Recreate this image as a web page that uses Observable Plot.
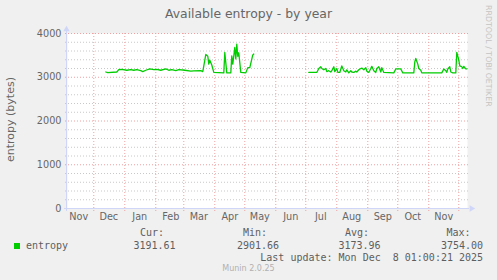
<!DOCTYPE html>
<html>
<head>
<meta charset="utf-8">
<script src="https://cdn.jsdelivr.net/npm/d3@7"></script>
<script src="https://cdn.jsdelivr.net/npm/@observablehq/plot@0.6"></script>
<style>
html, body { margin: 0; padding: 0; background: #F0F0F0; }
#wrap { position: relative; width: 497px; height: 280px; background: #F0F0F0; overflow: hidden; font-family: "DejaVu Sans", sans-serif; color: #666666; }
.t { position: absolute; white-space: pre; }
.mono { font-family: "DejaVu Sans Mono", monospace; font-size: 10px; line-height: 10px; color: #5e5e5e; }
#chart { position: absolute; left: 0; top: 22px; }
</style>
</head>
<body>
<div id="wrap">
  <div id="chart"></div>
</div>
<script>
// ---------- data ----------
const chartTitle = "Available entropy - by year";
const yTitle = "entropy (bytes)";
const seriesName = "entropy";
const seriesColor = "#00CC00";

// [date, bytes]; null marks the gap with no data
const entropy = [
  ["2024-12-13", 3120], ["2024-12-15", 3105], ["2024-12-24", 3120], ["2024-12-26", 3175],
  ["2024-12-29", 3180], ["2025-01-03", 3160], ["2025-01-07", 3175], ["2025-01-10", 3160],
  ["2025-01-13", 3175], ["2025-01-17", 3150], ["2025-01-19", 3130], ["2025-01-22", 3160],
  ["2025-01-26", 3190], ["2025-01-30", 3175], ["2025-02-02", 3180], ["2025-02-06", 3160],
  ["2025-02-11", 3190], ["2025-02-14", 3160], ["2025-02-17", 3175], ["2025-02-21", 3150],
  ["2025-02-24", 3175], ["2025-03-02", 3160], ["2025-03-08", 3140], ["2025-03-11", 3145],
  ["2025-03-18", 3150], ["2025-03-20", 3130], ["2025-03-23", 3520], ["2025-03-25", 3480],
  ["2025-03-26", 3300], ["2025-03-27", 3390], ["2025-03-29", 3280], ["2025-03-31", 3110],
  ["2025-04-10", 3100], ["2025-04-11", 3566], ["2025-04-13", 3100], ["2025-04-17", 3100],
  ["2025-04-18", 3490], ["2025-04-19", 3300], ["2025-04-21", 3680], ["2025-04-22", 3420],
  ["2025-04-23", 3754], ["2025-04-24", 3480], ["2025-04-25", 3560], ["2025-04-27", 3110],
  ["2025-05-02", 3100], ["2025-05-04", 3220], ["2025-05-06", 3220], ["2025-05-09", 3510],
  ["2025-05-10", 3530],
  ["2025-06-05", null],
  ["2025-07-04", 3110], ["2025-07-12", 3110], ["2025-07-14", 3200], ["2025-07-16", 3240],
  ["2025-07-17", 3200], ["2025-07-19", 3170], ["2025-07-21", 3200], ["2025-07-22", 3130],
  ["2025-07-24", 3150], ["2025-07-26", 3120], ["2025-07-27", 3150], ["2025-07-29", 3240],
  ["2025-07-30", 3130], ["2025-08-01", 3200], ["2025-08-02", 3110], ["2025-08-04", 3110],
  ["2025-08-06", 3260], ["2025-08-08", 3150], ["2025-08-10", 3120], ["2025-08-11", 3170],
  ["2025-08-13", 3100], ["2025-08-15", 3150], ["2025-08-16", 3120], ["2025-08-18", 3110],
  ["2025-08-20", 3140], ["2025-08-21", 3120], ["2025-08-23", 3170], ["2025-08-25", 3200],
  ["2025-08-26", 3210], ["2025-08-28", 3170], ["2025-08-30", 3220], ["2025-08-31", 3140],
  ["2025-09-02", 3110], ["2025-09-04", 3200], ["2025-09-05", 3250], ["2025-09-07", 3150],
  ["2025-09-09", 3110], ["2025-09-10", 3200], ["2025-09-12", 3240], ["2025-09-14", 3120],
  ["2025-09-15", 3220], ["2025-09-17", 3110], ["2025-09-27", 3100], ["2025-09-29", 3190],
  ["2025-10-04", 3190], ["2025-10-06", 3100], ["2025-10-17", 3100], ["2025-10-18", 3350],
  ["2025-10-19", 3430], ["2025-10-21", 3300], ["2025-10-22", 3200], ["2025-10-24", 3160],
  ["2025-10-25", 3100], ["2025-11-14", 3100], ["2025-11-16", 3190], ["2025-11-18", 3150],
  ["2025-11-19", 3110], ["2025-11-20", 3190], ["2025-11-22", 3240], ["2025-11-23", 3120],
  ["2025-11-25", 3100], ["2025-11-28", 3100], ["2025-11-29", 3570], ["2025-12-01", 3390],
  ["2025-12-02", 3260], ["2025-12-04", 3240], ["2025-12-05", 3200], ["2025-12-06", 3250],
  ["2025-12-08", 3190], ["2025-12-09", 3190]
];

const xDomain = ["2024-11-04T17:00:00Z", "2025-12-09T17:00:00Z"];
const yDomain = [0, 4000];
const monthStarts = ["2024-12-01", "2025-01-01", "2025-02-01", "2025-03-01", "2025-04-01",
  "2025-05-01", "2025-06-01", "2025-07-01", "2025-08-01", "2025-09-01", "2025-10-01",
  "2025-11-01", "2025-12-01"];
const monthLabelDates = ["2024-11-16", "2024-12-16", "2025-01-16", "2025-02-16", "2025-03-16",
  "2025-04-16", "2025-05-16", "2025-06-16", "2025-07-16", "2025-08-16", "2025-09-16",
  "2025-10-16", "2025-11-16"];
const majorTicks = [0, 1000, 2000, 3000, 4000];
const minorTicks = [200, 400, 600, 800, 1200, 1400, 1600, 1800, 2200, 2400, 2600, 2800,
  3200, 3400, 3600, 3800];

const statLabels = ["Cur:", "Min:", "Avg:", "Max:"];
const statValues = ["3191.61", "2901.66", "3173.96", "3754.00"];
const lastUpdate = "Last update: Mon Dec  8 01:00:21 2025";
const versionText = "Munin 2.0.25";
const watermark = "RRDTOOL / TOBI OETIKER";

// ---------- chart ----------
const table = entropy.map(([d, v]) => ({date: new Date(d), value: v == null ? NaN : v}));
const xd = xDomain.map(d => new Date(d));
const axisColor = "#CFD6F8";
const majorColor = "#f0a0a0";
const minorColor = "#c8c8c8";

const chart = Plot.plot({
  width: 497,
  height: 206,
  marginLeft: 67,
  marginRight: 30,
  marginTop: 11,
  marginBottom: 20,
  style: {background: "transparent", fontFamily: "DejaVu Sans", fontSize: "9.7px", color: "#666666", overflow: "visible"},
  x: {type: "utc", domain: xd},
  y: {domain: yDomain},
  marks: [
    Plot.frame({fill: "#FFFFFF", stroke: null}),
    Plot.ruleY(minorTicks, {stroke: minorColor, strokeDasharray: "1,2", insetLeft: -2, insetRight: -1}),
    Plot.ruleY(majorTicks, {stroke: majorColor, strokeDasharray: "1,2", insetLeft: -2, insetRight: -1}),
    Plot.ruleX(monthStarts.map(d => new Date(d)), {stroke: majorColor, strokeDasharray: "1,2", insetBottom: -3}),
    Plot.line(table, {x: "date", y: "value", stroke: seriesColor, strokeWidth: 1.3}),
    Plot.ruleY([0], {stroke: axisColor, insetLeft: -3, insetRight: -2}),
    Plot.ruleX([xd[0]], {stroke: axisColor, dx: -1, insetTop: -4, insetBottom: -3}),
    Plot.dot([xd[0]], {x: d => d, y: () => yDomain[1], symbol: "triangle", r: 2.4, fill: axisColor, stroke: null, dx: -1, dy: -4}),
    Plot.dot([xd[1]], {x: d => d, y: () => yDomain[0], symbol: "triangle", rotate: 90, r: 2.4, fill: axisColor, stroke: null, dx: 4}),
    Plot.axisY({ticks: majorTicks, tickSize: 0, tickPadding: 6, tickFormat: d3.format("d"), label: null, fill: "#666666"}),
    Plot.axisX({ticks: monthLabelDates.map(d => new Date(d)), tickSize: 0, tickPadding: 4.5,
      tickFormat: d3.utcFormat("%b"), label: null, fill: "#666666"})
  ]
});
document.getElementById("chart").appendChild(chart);

// ---------- texts around the chart ----------
const wrap = document.getElementById("wrap");
function addText(text, cls, style) {
  const el = document.createElement("div");
  el.className = "t " + (cls || "");
  el.textContent = text;
  Object.assign(el.style, style);
  wrap.appendChild(el);
  return el;
}
addText(chartTitle, "", {left: "0px", top: "7.8px", width: "497px", textAlign: "center", fontSize: "12.4px", lineHeight: "12.4px", color: "#666666"});
addText(yTitle, "", {left: "-49.7px", top: "113.5px", width: "120px", textAlign: "center", fontSize: "11px", lineHeight: "11px", transform: "rotate(-90deg)", color: "#666666"});
addText(watermark, "", {left: "491.8px", top: "4.5px", fontSize: "7.9px", lineHeight: "7.9px", transformOrigin: "0 0", transform: "rotate(90deg)", color: "#c4c4c4"});

// legend
const sw = document.createElement("div");
Object.assign(sw.style, {position: "absolute", left: "14px", top: "242.5px", width: "6px", height: "6px", background: seriesColor});
wrap.appendChild(sw);
addText(seriesName, "mono", {left: "26px", top: "240.5px"});
const headerLefts = [140, 243, 345, 446.5];
const valueLefts = [133.5, 237, 338.5, 441];
statLabels.forEach((s, i) => addText(s, "mono", {left: headerLefts[i] + "px", top: "228.2px"}));
statValues.forEach((s, i) => addText(s, "mono", {left: valueLefts[i] + "px", top: "240.5px"}));
addText(lastUpdate, "mono", {left: "260.3px", top: "252.5px"});
addText(versionText, "", {left: "0px", top: "264.9px", width: "497px", textAlign: "center", fontSize: "8px", lineHeight: "8px", color: "#b0b0b0"});
</script>
</body>
</html>
